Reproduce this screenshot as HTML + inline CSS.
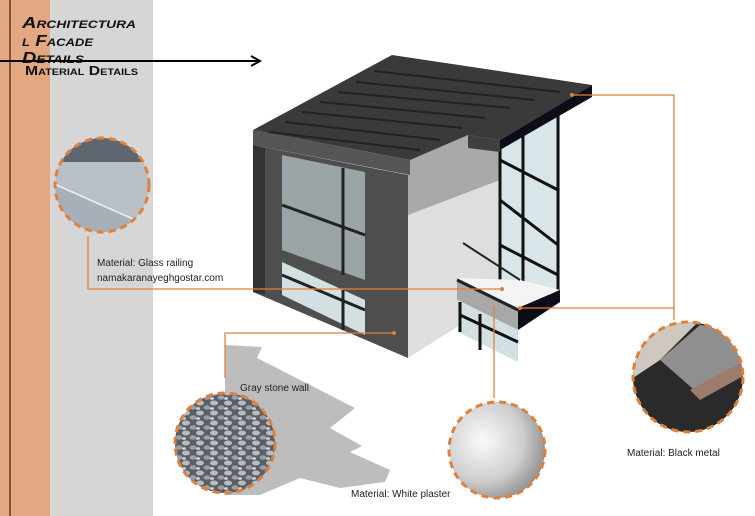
<!DOCTYPE html>
<html><head><meta charset="utf-8"><style>
html,body{margin:0;padding:0;background:#fff;width:755px;height:516px;overflow:hidden}
svg{display:block}
text{font-family:"Liberation Sans",sans-serif}
text.t{font-family:"Liberation Sans",sans-serif;font-variant:small-caps}
</style></head><body>
<svg width="755" height="516" viewBox="0 0 755 516" xmlns="http://www.w3.org/2000/svg">
<defs>
<radialGradient id="pl" cx="0.35" cy="0.4" r="0.7"><stop offset="0" stop-color="#fafafa"/><stop offset="0.6" stop-color="#cfcfcf"/><stop offset="1" stop-color="#8a8a8a"/></radialGradient>
<pattern id="st" width="14" height="10" patternUnits="userSpaceOnUse"><rect width="14" height="10" fill="#5a5f66"/><ellipse cx="4" cy="3" rx="4" ry="2.5" fill="#b7bcc3"/><ellipse cx="11" cy="7.5" rx="3.5" ry="2.2" fill="#9aa0a8"/><ellipse cx="2" cy="8.5" rx="2" ry="1.4" fill="#d0d4d8"/></pattern>
<clipPath id="c1"><circle cx="102" cy="185" r="47"/></clipPath>
<clipPath id="c4"><circle cx="688" cy="377" r="55"/></clipPath>
</defs>
<rect x="0" y="0" width="50" height="516" fill="#e3a882"/>
<rect x="50" y="0" width="103" height="516" fill="#d6d6d6"/>
<line x1="10" y1="0" x2="10" y2="516" stroke="#5a3a2a" stroke-width="1.5"/>
<text class="t" x="22" y="28" font-size="16" font-weight="bold" font-style="italic" fill="#111" textLength="114" lengthAdjust="spacingAndGlyphs">Architectura</text>
<text class="t" x="22" y="46" font-size="16" font-weight="bold" font-style="italic" fill="#111" textLength="71" lengthAdjust="spacingAndGlyphs">l Facade</text>
<text class="t" x="22" y="63" font-size="16" font-weight="bold" font-style="italic" fill="#111" textLength="62" lengthAdjust="spacingAndGlyphs">Details</text>
<text class="t" x="25" y="75" font-size="13" font-weight="bold" fill="#111" textLength="113" lengthAdjust="spacingAndGlyphs">Material Details</text>
<line x1="0" y1="61" x2="258" y2="61" stroke="#000" stroke-width="2"/>
<path d="M251 56 L260 61 L251 66" fill="none" stroke="#000" stroke-width="2"/>
<polygon points="225,345 262,347 257,358 355,408 330,428 362,446 350,452 390,470 385,482 340,488 300,478 260,495 225,495" fill="#bdbdbd"/>
<polygon points="253,145 408,175 408,358 253,292" fill="#4e4e4e"/>
<polygon points="282,155 365,172 365,280 282,250" fill="#9aa4a6"/>
<polygon points="282,262 365,300 365,335 282,295" fill="#d3e0e3"/>
<line x1="282" y1="205" x2="365" y2="235" stroke="#222" stroke-width="3"/>
<line x1="343" y1="168" x2="343" y2="275" stroke="#222" stroke-width="3"/>
<line x1="282" y1="275" x2="365" y2="310" stroke="#222" stroke-width="3"/>
<line x1="343" y1="290" x2="343" y2="330" stroke="#222" stroke-width="3"/>
<polygon points="253,145 265,148 265,295 253,292" fill="#333"/>
<polygon points="408,160 468,135 500,140 500,300 408,358" fill="#dedede"/>
<polygon points="408,160 468,135 500,140 500,180 408,215" fill="#a9a9a9"/>
<polygon points="500,145 560,110 560,290 500,300" fill="#d9e6e9"/>
<g stroke="#111" stroke-width="3"><line x1="500" y1="145" x2="500" y2="300"/><line x1="523" y1="135" x2="523" y2="290"/><line x1="558" y1="112" x2="558" y2="295"/><line x1="500" y1="160" x2="558" y2="190"/><line x1="500" y1="200" x2="558" y2="245"/><line x1="500" y1="245" x2="558" y2="275"/></g>
<polygon points="457,278 520,280 560,290 518,308" fill="#f4f4f4"/>
<line x1="463" y1="243" x2="520" y2="280" stroke="#222" stroke-width="2"/>
<polygon points="457,278 518,308 518,330 457,300" fill="#a8a8a8"/>
<line x1="457" y1="280" x2="518" y2="310" stroke="#222" stroke-width="3"/>
<polygon points="518,308 560,290 560,302 518,330" fill="#0d0d1a"/>
<polygon points="458,300 518,330 518,362 458,332" fill="#d3e0e3"/>
<g stroke="#111" stroke-width="3"><line x1="460" y1="302" x2="460" y2="332"/><line x1="480" y1="314" x2="480" y2="350"/><line x1="460" y1="315" x2="518" y2="342"/></g>
<polygon points="253,130 392,55 592,85 500,140 468,135 410,160" fill="#3a3a3a"/>
<g stroke="#222" stroke-width="2">
<line x1="268" y1="132" x2="420" y2="150"/><line x1="285" y1="122" x2="440" y2="140"/><line x1="302" y1="112" x2="462" y2="128"/><line x1="320" y1="102" x2="485" y2="118"/><line x1="338" y1="92" x2="510" y2="108"/><line x1="356" y1="82" x2="535" y2="100"/><line x1="374" y1="71" x2="560" y2="92"/>
</g>
<polygon points="253,130 410,160 410,175 253,145" fill="#555"/>
<polygon points="468,135 500,140 500,152 468,148" fill="#3f3f3f"/>
<polygon points="500,140 592,85 592,97 500,150" fill="#0d0d1a"/>
<g stroke="#e0803a" stroke-width="1.3" fill="none">
<polyline points="88,236 88,289 502,289"/>
<polyline points="394,333 225,333 225,378"/>
<line x1="494" y1="306" x2="494" y2="398"/>
<polyline points="572,95 674,95 674,308 520,308"/>
<line x1="674" y1="308" x2="674" y2="320"/>
</g>
<g fill="#e0803a"><circle cx="502" cy="289" r="2"/><circle cx="394" cy="333" r="2"/><circle cx="572" cy="95" r="2"/><circle cx="520" cy="308" r="2"/></g>
<g clip-path="url(#c1)"><rect x="50" y="130" width="110" height="110" fill="#b9c0c7"/><rect x="50" y="130" width="110" height="32" fill="#5f6670"/><polygon points="50,180 150,225 150,240 50,240" fill="#a7b0b8"/><line x1="50" y1="182" x2="140" y2="222" stroke="#e6e9ec" stroke-width="2"/></g>
<circle cx="102" cy="185" r="47" fill="none" stroke="#e0803a" stroke-width="3" stroke-dasharray="7,5"/>
<circle cx="225" cy="443" r="50" fill="url(#st)" stroke="#e0803a" stroke-width="3" stroke-dasharray="7,5"/>
<circle cx="497" cy="450" r="48" fill="url(#pl)" stroke="#e0803a" stroke-width="3" stroke-dasharray="7,5"/>
<g clip-path="url(#c4)"><rect x="630" y="320" width="120" height="120" fill="#2a2a2a"/><polygon points="630,320 700,320 660,360 630,380" fill="#cfc8bf"/><polygon points="660,360 700,325 745,330 745,370 700,395" fill="#8f8f8f"/><polygon points="690,390 745,360 745,375 700,400" fill="#9c7c6c"/></g>
<circle cx="688" cy="377" r="55" fill="none" stroke="#e0803a" stroke-width="3" stroke-dasharray="7,5"/>
<g font-size="10" fill="#222">
<text x="97" y="266">Material: Glass railing</text>
<text x="97" y="281">namakaranayeghgostar.com</text>
<text x="240" y="391">Gray stone wall</text>
<text x="351" y="497">Material: White plaster</text>
<text x="627" y="456">Material: Black metal</text>
</g>
</svg>
</body></html>
